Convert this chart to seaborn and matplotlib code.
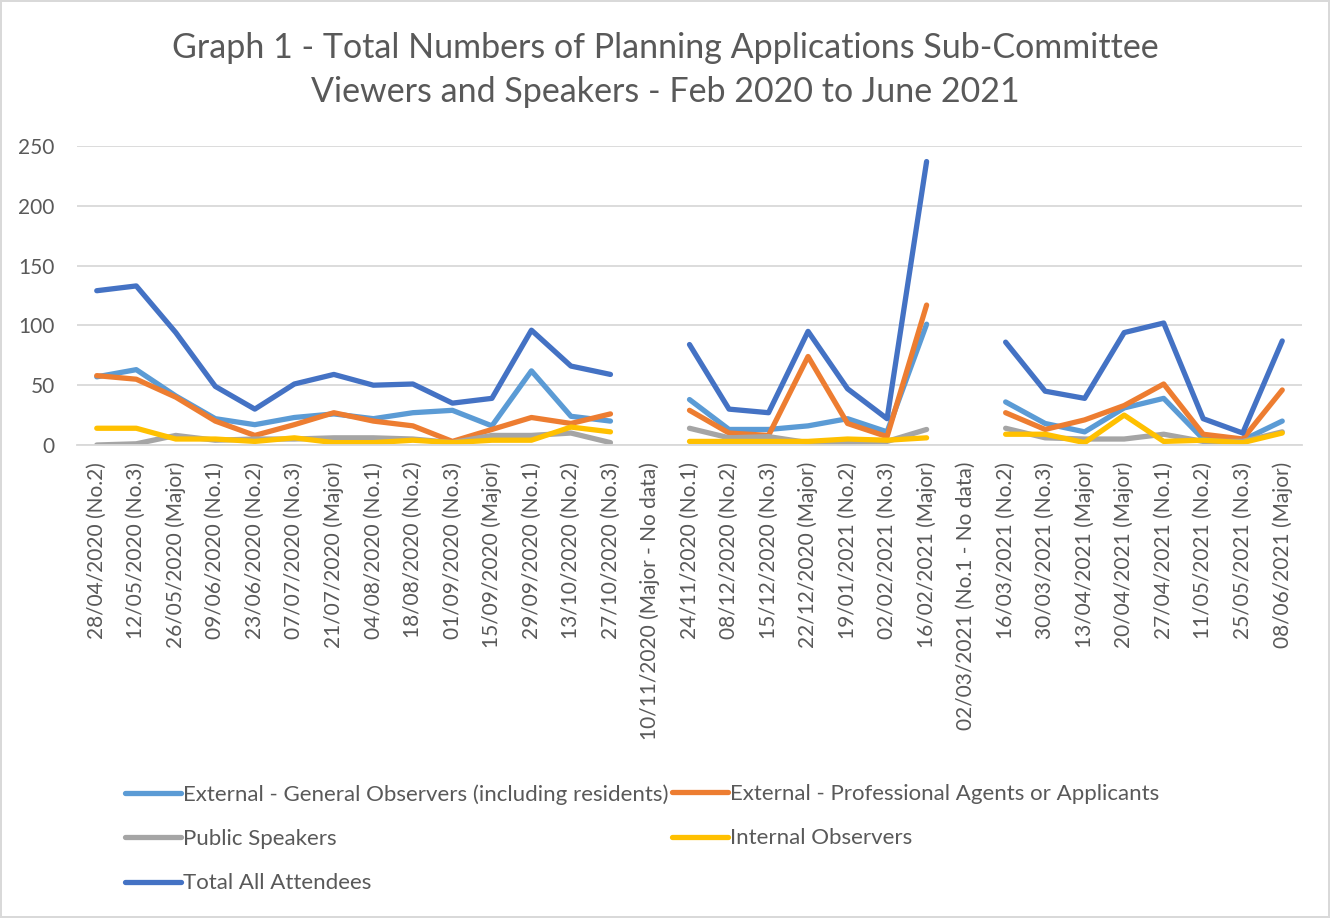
import seaborn as sns
import pandas as pd
import numpy as np
import matplotlib
matplotlib.use("Agg")
import matplotlib.pyplot as plt
from matplotlib.lines import Line2D

# Datas das reuniões (categorias do eixo x)
datas = [
    "28/04/2020 (No.2)", "12/05/2020 (No.3)", "26/05/2020 (Major)", "09/06/2020 (No.1)",
    "23/06/2020 (No.2)", "07/07/2020 (No.3)", "21/07/2020 (Major)", "04/08/2020 (No.1)",
    "18/08/2020 (No.2)", "01/09/2020 (No.3)", "15/09/2020 (Major)", "29/09/2020 (No.1)",
    "13/10/2020 (No.2)", "27/10/2020 (No.3)", "10/11/2020 (Major - No data)",
    "24/11/2020 (No.1)", "08/12/2020 (No.2)", "15/12/2020 (No.3)", "22/12/2020 (Major)",
    "19/01/2021 (No.2)", "02/02/2021 (No.3)", "16/02/2021 (Major)",
    "02/03/2021 (No.1 - No data)",
    "16/03/2021 (No.2)", "30/03/2021 (No.3)", "13/04/2021 (Major)", "20/04/2021 (Major)",
    "27/04/2021 (No.1)", "11/05/2021 (No.2)", "25/05/2021 (No.3)", "08/06/2021 (Major)",
]

nan = np.nan
externos_gerais = [57, 63, 41, 22, 17, 23, 26, 22, 27, 29, 16, 62, 24, 20, nan,
                   38, 13, 13, 16, 22, 11, 101, nan,
                   36, 18, 11, 31, 39, 5, 4, 20]
externos_prof = [58, 55, 40, 20, 8, 17, 27, 20, 16, 3, 13, 23, 18, 26, nan,
                 29, 10, 8, 74, 18, 7, 117, nan,
                 27, 13, 21, 33, 51, 9, 5, 46]
oradores = [0, 1, 8, 4, 5, 5, 6, 6, 5, 2, 8, 8, 10, 2, nan,
            14, 6, 7, 2, 2, 3, 13, nan,
            14, 6, 5, 5, 9, 3, 3, 11]
internos = [14, 14, 5, 5, 3, 6, 2, 2, 4, 2, 4, 4, 15, 11, nan,
            3, 3, 3, 3, 5, 4, 6, nan,
            9, 9, 2, 25, 3, 4, 2, 10]
total = [129, 133, 94, 49, 30, 51, 59, 50, 51, 35, 39, 96, 66, 59, nan,
         84, 30, 27, 95, 47, 22, 237, nan,
         86, 45, 39, 94, 102, 22, 10, 87]

series = {
    "External - General Observers (including residents)": externos_gerais,
    "External - Professional Agents or Applicants": externos_prof,
    "Public Speakers": oradores,
    "Internal Observers": internos,
    "Total All Attendees": total,
}
cores = {
    "External - General Observers (including residents)": "#5B9BD5",
    "External - Professional Agents or Applicants": "#ED7D31",
    "Public Speakers": "#A5A5A5",
    "Internal Observers": "#FFC000",
    "Total All Attendees": "#4472C4",
}

# Montando o dataframe longo (segmento separa os trechos sem dados)
linhas = []
for nome, valores in series.items():
    segmento = 0
    for i, v in enumerate(valores):
        if np.isnan(v):
            segmento += 1
            continue
        linhas.append({"pos": i, "valor": v, "serie": nome, "segmento": segmento})
dataframe = pd.DataFrame(linhas)

sns.set_style("white")
plt.rcParams["font.family"] = ["Lato", "DejaVu Sans"]
cinza = "#595959"
espessura = 3.8

fig = plt.figure(figsize=(13.3, 9.18), dpi=100)
ax = fig.add_axes([77 / 1330, 1 - 445 / 918, (1302 - 77) / 1330, (445 - 146) / 918])

sns.lineplot(data=dataframe, x="pos", y="valor", hue="serie", units="segmento",
             estimator=None, palette=cores, linewidth=espessura, ax=ax, legend=False,
             solid_capstyle="round", solid_joinstyle="round")

ax.set_xlim(-0.5, len(datas) - 0.5)
ax.set_ylim(0, 250)
ax.set_yticks(range(0, 251, 50))
ax.set_xticks(range(len(datas)))
ax.set_xticklabels(datas, rotation=90)
ax.set_xlabel("")
ax.set_ylabel("")
ax.grid(axis="y", color="#D9D9D9", linewidth=1.3)
ax.set_axisbelow(True)
for lado in ["top", "right", "left"]:
    ax.spines[lado].set_visible(False)
ax.spines["bottom"].set_color("#D9D9D9")
ax.spines["bottom"].set_linewidth(1.3)
ax.tick_params(axis="y", length=0, pad=16, labelsize=15, labelcolor=cinza)
ax.tick_params(axis="x", length=0, pad=12, labelsize=15, labelcolor=cinza)

fig.text(0.5, 1 - 70 / 918,
         "Graph 1 - Total Numbers of Planning Applications Sub-Committee\nViewers and Speakers - Feb 2020 to June 2021",
         ha="center", va="center", fontsize=24.5, color=cinza, linespacing=1.5)

# Legenda em duas colunas, posicionadas como no original
def entradas(nomes):
    return [Line2D([0], [0], color=cores[n], linewidth=espessura) for n in nomes]

col1 = ["External - General Observers (including residents)", "Public Speakers", "Total All Attendees"]
col2 = ["External - Professional Agents or Applicants", "Internal Observers"]
for nomes, x0 in [(col1, 125 / 1330), (col2, 672 / 1330)]:
    fig.legend(entradas(nomes), nomes, loc="upper left", bbox_to_anchor=(x0, 1 - 784 / 918),
               frameon=False, fontsize=16, labelcolor=cinza, handlelength=2.5,
               handletextpad=0.12, labelspacing=1.1, borderpad=0, borderaxespad=0)

fig.patch.set_edgecolor("#D9D9D9")
fig.patch.set_linewidth(1.5)
plt.savefig("out.png", dpi=100)
